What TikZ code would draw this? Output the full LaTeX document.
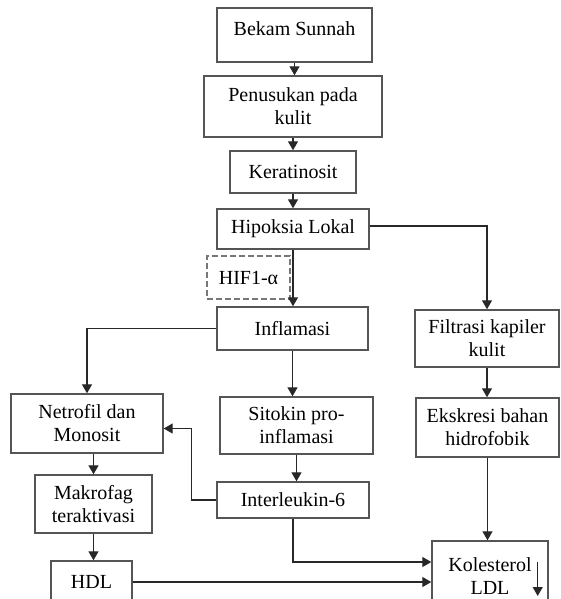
\documentclass[tikz,border=0pt]{standalone}
\usepackage{fontspec}
\setmainfont{Liberation Serif}
\usetikzlibrary{arrows.meta, calc}
\definecolor{boxline}{RGB}{85, 85, 85}
\definecolor{flowline}{RGB}{40, 40, 40}
\tikzset{
  % Plain box of the flow chart.
  box/.style 2 args={
    rectangle, draw=boxline, line width=1.4pt,
    fill=white,
    minimum width=#1pt, minimum height=#2pt,
    inner sep=2pt, align=center,
    font=\fontsize{20}{23}\selectfont,
  },
  % Dashed side note.
  note/.style 2 args={
    box={#1}{#2}, dash pattern=on 6pt off 3pt, draw=boxline!80,
  },
  % Arrows.
  flow/.style={
    -{Triangle[length=9pt, width=10pt]},
    line width=1.3pt, draw=flowline,
  },
}
\begin{document}
\begin{tikzpicture}[x=1pt, y=-1pt]
  \useasboundingbox (0,0) rectangle (560,599);
  \clip (0,0) rectangle (560,599);

  % Main column.
  \node[box={155}{54}, text depth=12pt] (bekam) at (294.5,35) {Bekam Sunnah};
  \node[box={178}{61}] (tusuk) at (293,106.5) {Penusukan pada\\kulit};
  \node[box={126}{42}] (kerat) at (293,172) {Keratinosit};
  \node[box={152}{40}] (hipoksia) at (293,229) {Hipoksia Lokal};
  \node[note={83}{43}] (hif) at (248.5,277.5) {HIF1-α};
  \node[box={151}{43}] (inflam) at (292.5,328.5) {Inflamasi};
  \node[box={153}{57}] (sitokin) at (296.5,425.5) {Sitokin pro-\\inflamasi};
  \node[box={152}{36}] (il6) at (293,500) {Interleukin-6};

  % Left column.
  \node[box={152}{59}] (netrofil) at (87,423.5) {Netrofil dan\\Monosit};
  \node[box={117}{58}] (makrofag) at (93.5,504) {Makrofag\\teraktivasi};
  \node[box={81}{42}] (hdl) at (91.5,582) {HDL};

  % Right column.
  \node[box={144}{57}] (filtrasi) at (487,338.5) {Filtrasi kapiler\\kulit};
  \node[box={143}{59}] (ekskresi) at (487.5,427.5) {Ekskresi bahan\\hidrofobik};
  \node[box={116}{70}] (ldl) at (490,576) {Kolesterol\hspace{14pt}\\LDL\hspace{8pt}};
  \draw[flow] ($(ldl.east)+(-11,-14)$) -- ($(ldl.east)+(-11,20)$);

  % Main column arrows.
  \draw[flow] (bekam.south) -- (bekam.south |- tusuk.north);
  \draw[flow] (tusuk.south) -- (tusuk.south |- kerat.north);
  \draw[flow] (kerat.south) -- (kerat.south |- hipoksia.north);
  \draw[flow] (hipoksia.south) -- (hipoksia.south |- inflam.north);
  \draw[flow] (inflam.south) -- (inflam.south |- sitokin.north);
  \draw[flow] (sitokin.south) -- (sitokin.south |- il6.north);

  % Branches.
  \draw[flow] ($(hipoksia.east)+(0,-3)$) -| (filtrasi.north);
  \draw[flow] (inflam.west) -| (netrofil.north);
  \draw[flow] (il6.west) -- ++(-25,0) |- ($(netrofil.east)+(0,5)$);
  \draw[flow] (makrofag.north |- netrofil.south) -- (makrofag.north);
  \draw[flow] (makrofag.south) -- (makrofag.south |- hdl.north);
  \draw[flow] (filtrasi.south) -- (filtrasi.south |- ekskresi.north);

  % Into LDL.
  \draw[flow] (ekskresi.south) -- (ekskresi.south |- ldl.north);
  \draw[flow] (il6.south) |- ($(ldl.west)+(0,-14)$);
  \draw[flow] (hdl.east) -- (hdl.east -| ldl.west);

\end{tikzpicture}
\end{document}
